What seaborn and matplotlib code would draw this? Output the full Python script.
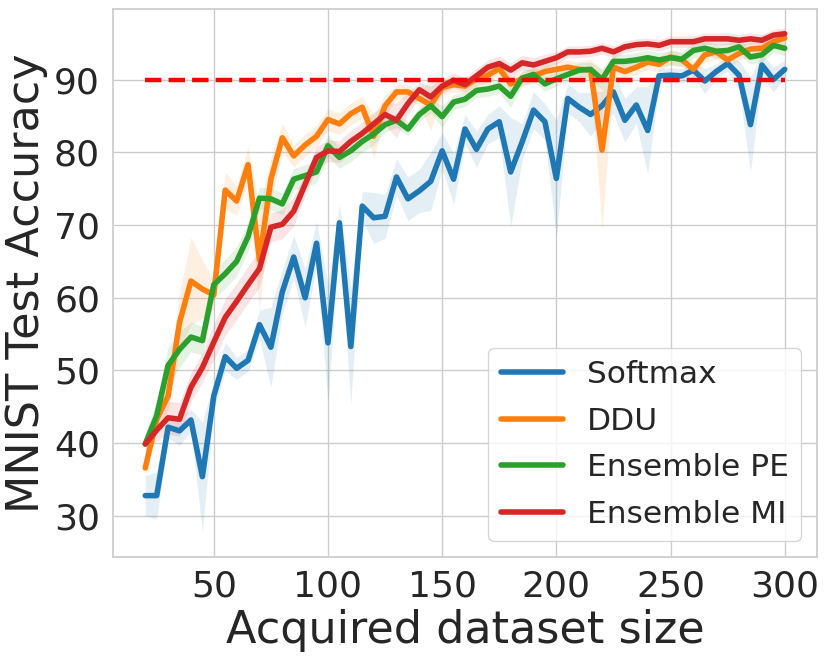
import numpy as np
import pandas as pd
import matplotlib
matplotlib.use("Agg")
import matplotlib.pyplot as plt
import seaborn as sns

# acquired dataset sizes (20, 25, ..., 300)
dataset_size = list(range(20, 305, 5))

softmax_acc = [32.8, 32.8, 42.2, 41.7, 43.2, 35.4, 46.5, 51.9, 50.3, 51.4,
               56.3, 53.2, 60.8, 65.6, 60.0, 67.5, 53.8, 70.3, 53.3, 72.6,
               71.0, 71.2, 76.6, 73.6, 74.7, 76.0, 80.2, 76.3, 83.2, 80.4,
               83.2, 84.2, 77.3, 81.4, 85.8, 84.2, 76.4, 87.4, 86.2, 85.2,
               86.4, 88.3, 84.4, 86.5, 83.0, 90.5, 90.6, 90.5, 91.3, 89.8,
               91.1, 92.2, 90.6, 83.8, 92.0, 90.0, 91.4]
softmax_err = [2.8, 3.2, 1.5, 2.0, 1.5, 7.5, 2.0, 2.0, 1.5, 1.5,
               2.0, 5.5, 3.0, 3.0, 4.0, 3.0, 8.0, 2.5, 8.0, 2.0,
               3.5, 3.0, 2.5, 3.0, 3.0, 4.0, 2.5, 3.5, 2.0, 2.5,
               2.0, 2.2, 7.5, 2.5, 2.5, 2.5, 8.0, 2.0, 2.0, 3.0,
               2.0, 3.0, 3.0, 2.5, 6.0, 1.0, 1.0, 1.0, 1.0, 1.7,
               1.0, 1.0, 2.0, 6.5, 1.5, 1.7, 1.3]

ddu_acc = [36.6, 43.3, 46.5, 56.6, 62.3, 61.2, 60.4, 74.8, 73.3, 78.3,
           65.2, 76.3, 82.0, 79.5, 81.0, 82.2, 84.5, 83.9, 85.3, 86.2,
           82.2, 86.4, 88.3, 88.3, 87.4, 86.5, 88.9, 89.3, 89.1, 90.1,
           90.6, 91.5, 89.4, 90.1, 90.5, 91.1, 91.4, 91.7, 91.4, 91.3,
           80.3, 91.7, 91.1, 91.7, 92.4, 92.1, 93.1, 92.7, 91.4, 93.4,
           93.8, 92.7, 93.6, 94.2, 94.3, 95.2, 95.7]
ddu_err = [1.0, 1.5, 2.0, 4.0, 6.0, 4.0, 2.0, 2.5, 2.0, 2.5,
           7.0, 3.0, 2.0, 1.5, 1.5, 1.5, 1.5, 1.5, 1.5, 1.5,
           3.0, 1.5, 1.0, 1.0, 1.0, 3.5, 1.0, 1.0, 1.0, 1.0,
           1.0, 1.0, 1.0, 1.0, 1.0, 1.0, 1.0, 1.0, 1.0, 1.5,
           11.0, 1.5, 1.0, 1.0, 1.0, 1.0, 1.0, 1.0, 1.0, 1.0,
           1.0, 1.0, 1.0, 1.0, 1.0, 1.0, 1.0]

ens_pe_acc = [39.9, 43.8, 50.7, 52.9, 54.6, 54.1, 61.8, 63.3, 65.0, 68.4,
              73.7, 73.6, 72.9, 76.3, 76.8, 77.3, 80.9, 79.3, 80.2, 81.5,
              82.5, 83.8, 84.4, 83.2, 85.2, 86.4, 84.9, 86.9, 87.3, 88.5,
              88.7, 89.1, 87.7, 90.2, 90.7, 89.4, 90.1, 90.7, 91.3, 91.4,
              90.0, 92.5, 92.5, 92.7, 93.0, 92.7, 93.0, 92.8, 94.0, 94.3,
              93.9, 94.0, 94.5, 93.1, 93.4, 94.7, 94.3]
ens_pe_err = [1.5, 2.0, 2.5, 2.5, 2.0, 2.0, 2.0, 2.0, 2.0, 2.0,
              1.5, 1.5, 1.5, 1.5, 1.5, 1.5, 1.5, 1.5, 1.5, 1.5,
              1.5, 1.0, 1.0, 1.0, 1.0, 1.0, 1.5, 1.0, 1.0, 1.0,
              1.0, 1.0, 1.5, 1.0, 1.0, 1.0, 1.0, 1.0, 1.0, 1.0,
              1.5, 1.0, 1.0, 1.0, 1.0, 1.0, 1.0, 1.0, 1.0, 1.0,
              1.0, 1.0, 1.0, 1.0, 1.0, 1.0, 1.0]

ens_mi_acc = [39.9, 41.8, 43.5, 43.3, 47.7, 50.4, 53.9, 57.3, 59.5, 61.8,
              64.0, 69.7, 70.1, 71.9, 75.6, 79.3, 80.2, 80.1, 81.5, 82.6,
              83.9, 85.2, 84.4, 86.7, 88.6, 87.6, 89.1, 89.9, 89.3, 90.5,
              91.7, 92.2, 91.3, 92.3, 92.0, 92.5, 93.0, 93.8, 93.8, 93.9,
              94.3, 93.8, 94.5, 94.8, 94.9, 94.7, 95.2, 95.2, 95.2, 95.6,
              95.6, 95.6, 95.4, 95.6, 95.4, 96.1, 96.3]
ens_mi_err = [1.0, 1.5, 2.3, 2.3, 2.0, 2.0, 2.5, 2.5, 2.5, 2.5,
              2.5, 2.0, 2.0, 2.0, 1.5, 1.5, 1.5, 1.5, 1.5, 1.5,
              1.5, 1.5, 2.4, 1.5, 1.0, 1.5, 1.0, 1.0, 1.0, 1.0,
              1.0, 1.0, 1.0, 1.0, 1.0, 1.0, 0.8, 0.8, 0.8, 0.8,
              0.8, 0.8, 0.8, 0.8, 0.8, 0.8, 0.8, 0.8, 0.8, 0.8,
              0.8, 0.8, 0.8, 0.8, 0.8, 0.8, 0.8]

methods = ["Softmax", "DDU", "Ensemble PE", "Ensemble MI"]
target_acc = 90

sns.set_theme(style="whitegrid")
plt.rcParams["font.family"] = ["DejaVu Sans"]

series = {
    "Softmax": (softmax_acc, softmax_err),
    "DDU": (ddu_acc, ddu_err),
    "Ensemble PE": (ens_pe_acc, ens_pe_err),
    "Ensemble MI": (ens_mi_acc, ens_mi_err),
}

rows = []
for name in methods:
    acc, err = series[name]
    for x, a, e in zip(dataset_size, acc, err):
        rows.append({"size": x, "acc": a, "err": e, "method": name})
df = pd.DataFrame(rows)

colors = sns.color_palette("tab10", 4)

fig, ax = plt.subplots(figsize=(8.3, 6.59), dpi=100)
fig.subplots_adjust(left=113.3 / 830, right=816.7 / 830,
                    bottom=1 - 556.7 / 659, top=1 - 9 / 659)

# shaded bands first
for name, c in zip(methods, colors):
    sub = df[df["method"] == name]
    ax.fill_between(sub["size"], sub["acc"] - sub["err"], sub["acc"] + sub["err"],
                    color=c, alpha=0.12, linewidth=0)

sns.lineplot(data=df, x="size", y="acc", hue="method", hue_order=methods,
             palette=colors, linewidth=4, ax=ax)

ax.plot([dataset_size[0], dataset_size[-1]], [target_acc, target_acc],
        color="red", linestyle="--", linewidth=3.2)

ax.set_xlim(6, 314)
ax.set_ylim(24.4, 99.7)
ax.set_xticks([50, 100, 150, 200, 250, 300])
ax.set_yticks([30, 40, 50, 60, 70, 80, 90])
ax.tick_params(labelsize=26)
ax.set_xlabel("Acquired dataset size", fontsize=32)
ax.set_ylabel("MNIST Test Accuracy", fontsize=32)

leg = ax.legend(loc="lower right", fontsize=22.5, frameon=True,
                borderaxespad=0.5, handletextpad=0.75, labelspacing=0.56)
for line in leg.get_lines():
    line.set_linewidth(4)

fig.savefig("out.png", dpi=100)
